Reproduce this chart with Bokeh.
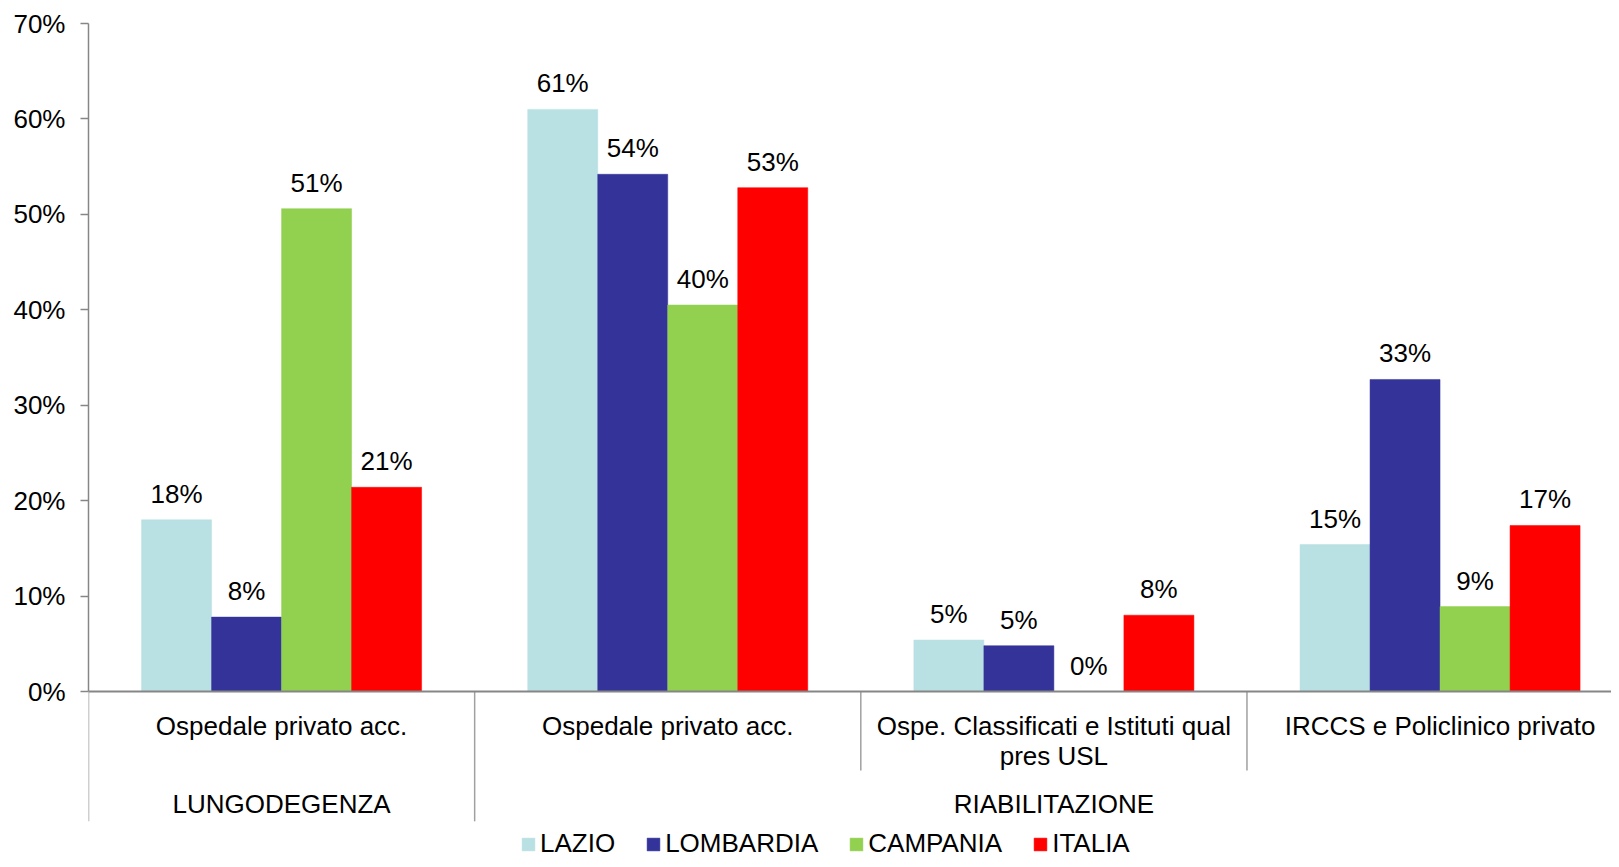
from bokeh.plotting import figure
from bokeh.models import Range1d, FixedTicker, Span, ColumnDataSource
from bokeh.core.properties import value
from bokeh.embed import file_html
from bokeh.resources import INLINE

# ---- data ----
parents = ["LUNGODEGENZA", "RIABILITAZIONE", "RIABILITAZIONE", "RIABILITAZIONE"]
categories = ["Ospedale privato acc.", "Ospedale privato acc.",
              "Ospe. Classificati e Istituti qual\npres USL", "IRCCS e Policlinico privato"]
series = ["LAZIO", "LOMBARDIA", "CAMPANIA", "ITALIA"]
lazio = [18.0, 61.0, 5.4, 15.4]
lombardia = [7.8, 54.2, 4.8, 32.7]
campania = [50.6, 40.5, 0.0, 8.9]
italia = [21.4, 52.8, 8.0, 17.4]
values = [lazio, lombardia, campania, italia]
colors = ["#B9E0E3", "#333399", "#92D050", "#FF0000"]
y_ticks = [0, 10, 20, 30, 40, 50, 60, 70]
y_tick_labels = ["0%", "10%", "20%", "30%", "40%", "50%", "60%", "70%"]

FONT = "Liberation Sans"
FS = "26px"
GRAY = "#868686"

p = figure(width=1611, height=859, output_backend="svg", toolbar_location=None,
           x_range=Range1d(0, 3.944), y_range=Range1d(-17.6, 70),
           min_border_left=88, min_border_right=0, min_border_top=23, min_border_bottom=0)
p.outline_line_color = None
p.xgrid.visible = False
p.ygrid.visible = False
p.xaxis.visible = False

ax = p.yaxis[0]
ax.ticker = FixedTicker(ticks=y_ticks)
ax.major_label_overrides = {t: l for t, l in zip(y_ticks, y_tick_labels)}
ax.bounds = (0, 70)
ax.axis_line_color = GRAY
ax.axis_line_width = 1.5
ax.major_tick_line_color = GRAY
ax.major_tick_line_width = 1.5
ax.major_tick_out = 8
ax.major_tick_in = 0
ax.minor_tick_line_color = None
ax.major_label_standoff = 15
ax.major_label_text_font = FONT
ax.major_label_text_font_size = FS
ax.major_label_text_color = "black"

bar_w = 0.1813
n = len(series)
for i, (name, vals, col) in enumerate(zip(series, values, colors)):
    xs = [g + 0.5 + (i - (n - 1) / 2) * bar_w for g in range(len(categories))]
    src = ColumnDataSource(dict(x=xs, top=vals, lbl=["%d%%" % round(v) for v in vals]))
    p.vbar(x="x", top="top", bottom=0, width=bar_w, source=src, fill_color=col,
           line_color=col, line_width=0.5, legend_label=name)
    p.text(x="x", y="top", text="lbl", source=src, text_align="center",
           text_baseline="middle", y_offset=-26, text_font=value(FONT),
           text_font_size=FS, text_color="black")

# zero line
p.add_layout(Span(location=0, dimension="width", line_color=GRAY, line_width=2))

# category axis (hierarchical) drawn below the zero line
L1_Y = -3.56
L1_BOTTOM = -8.28
L2_Y = -11.74
L2_BOTTOM = -13.6

tx, ty, tt, to = [], [], [], []
for g, cat in enumerate(categories):
    for j, line in enumerate(cat.split("\n")):
        tx.append(g + 0.5)
        ty.append(L1_Y)
        tt.append(line)
        to.append(j * 30)
start = 0
for g in range(1, len(parents) + 1):
    if g == len(parents) or parents[g] != parents[start]:
        tx.append((start + g) / 2)
        ty.append(L2_Y)
        tt.append(parents[start])
        to.append(0)
        start = g
p.text(x=tx, y=ty, text=tt, y_offset=to, text_align="center", text_baseline="middle",
       text_font=value(FONT), text_font_size=FS, text_color="black")

sx, sy0, sy1 = [], [], []
for b in range(len(categories) + 1):
    full = b == 0 or b == len(categories) or parents[b - 1] != parents[b]
    sx.append(b)
    sy0.append(0)
    sy1.append(L2_BOTTOM if full else L1_BOTTOM)
p.segment(x0=sx, y0=sy0, x1=sx, y1=sy1, line_color="#A0A0A0", line_width=1.5)

leg = p.legend[0]
leg.orientation = "horizontal"
leg.location = (432, 0)
leg.padding = 0
leg.margin = 0
leg.spacing = 30
leg.glyph_width = 16
leg.glyph_height = 16
leg.label_standoff = 4
leg.label_text_font = FONT
leg.label_text_font_size = FS
leg.label_text_color = "black"
leg.border_line_color = None
leg.background_fill_alpha = 0

open("out.html", "w").write(file_html(p, INLINE))
